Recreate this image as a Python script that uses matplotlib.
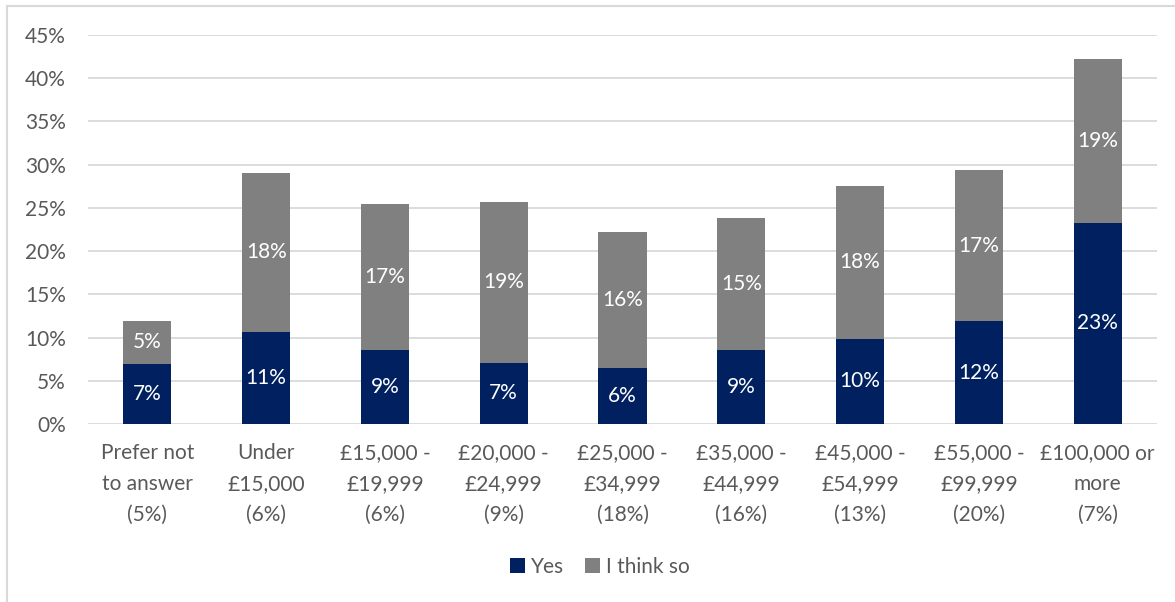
import matplotlib.pyplot as plt
from matplotlib.lines import Line2D
from matplotlib.ticker import PercentFormatter

plt.rcParams['font.family'] = ['Lato', 'DejaVu Sans']

# income bands with share of respondents in brackets
categories = ['Prefer not\nto answer\n(5%)', 'Under\n£15,000\n(6%)', '£15,000 -\n£19,999\n(6%)',
              '£20,000 -\n£24,999\n(9%)', '£25,000 -\n£34,999\n(18%)', '£35,000 -\n£44,999\n(16%)',
              '£45,000 -\n£54,999\n(13%)', '£55,000 -\n£99,999\n(20%)', '£100,000 or\nmore\n(7%)']
yes = [6.98, 10.65, 8.6, 7.1, 6.44, 8.56, 9.84, 11.88, 23.3]
think_so = [4.94, 18.4, 16.86, 18.6, 15.8, 15.28, 17.74, 17.45, 18.95]

navy = '#002060'
grey = '#808080'
text_col = '#595959'
fs = 15

fig = plt.figure(figsize=(11.75, 6.02), dpi=100)
ax = fig.add_axes([88 / 1175, 1 - 424 / 602, (1157 - 88) / 1175, (424 - 35) / 602])

x = range(len(categories))
b1 = ax.bar(x, yes, width=0.405, color=navy, label='Yes', zorder=3)
b2 = ax.bar(x, think_so, width=0.405, bottom=yes, color=grey, label='I think so', zorder=3)

for bars, vals in ((b1, yes), (b2, think_so)):
    labels = [f'{round(v + 1e-9):.0f}%' for v in vals]
    ax.bar_label(bars, labels=labels, label_type='center', color='white', fontsize=fs)

ax.set_ylim(0, 45)
ax.set_xlim(-0.5, len(categories) - 0.5)
ax.set_yticks(range(0, 46, 5))
ax.yaxis.set_major_formatter(PercentFormatter(decimals=0))
ax.set_xticks(list(x))
ax.set_xticklabels(categories, linespacing=1.68)
ax.tick_params(axis='both', length=0, labelsize=fs, labelcolor=text_col)
ax.tick_params(axis='y', pad=16)
ax.tick_params(axis='x', pad=14)
ax.grid(axis='y', color='#d9d9d9', linewidth=1.3, zorder=0)
for s in ax.spines.values():
    s.set_visible(False)

fig.legend(handles=[b1, b2], loc='center', bbox_to_anchor=(600 / 1175, 1 - 567 / 602), ncol=2,
           frameon=False, fontsize=fs, labelcolor=text_col, handlelength=0.7, handleheight=0.7,
           handletextpad=0.3, columnspacing=1.0)

# light frame along the top and left edges
fig.add_artist(Line2D([7 / 1175, 7 / 1175], [0, 1 - 6 / 602], color='#d9d9d9', linewidth=1.5))
fig.add_artist(Line2D([7 / 1175, 1], [1 - 6 / 602, 1 - 6 / 602], color='#d9d9d9', linewidth=1.5))

fig.savefig('out.png', dpi=100)
